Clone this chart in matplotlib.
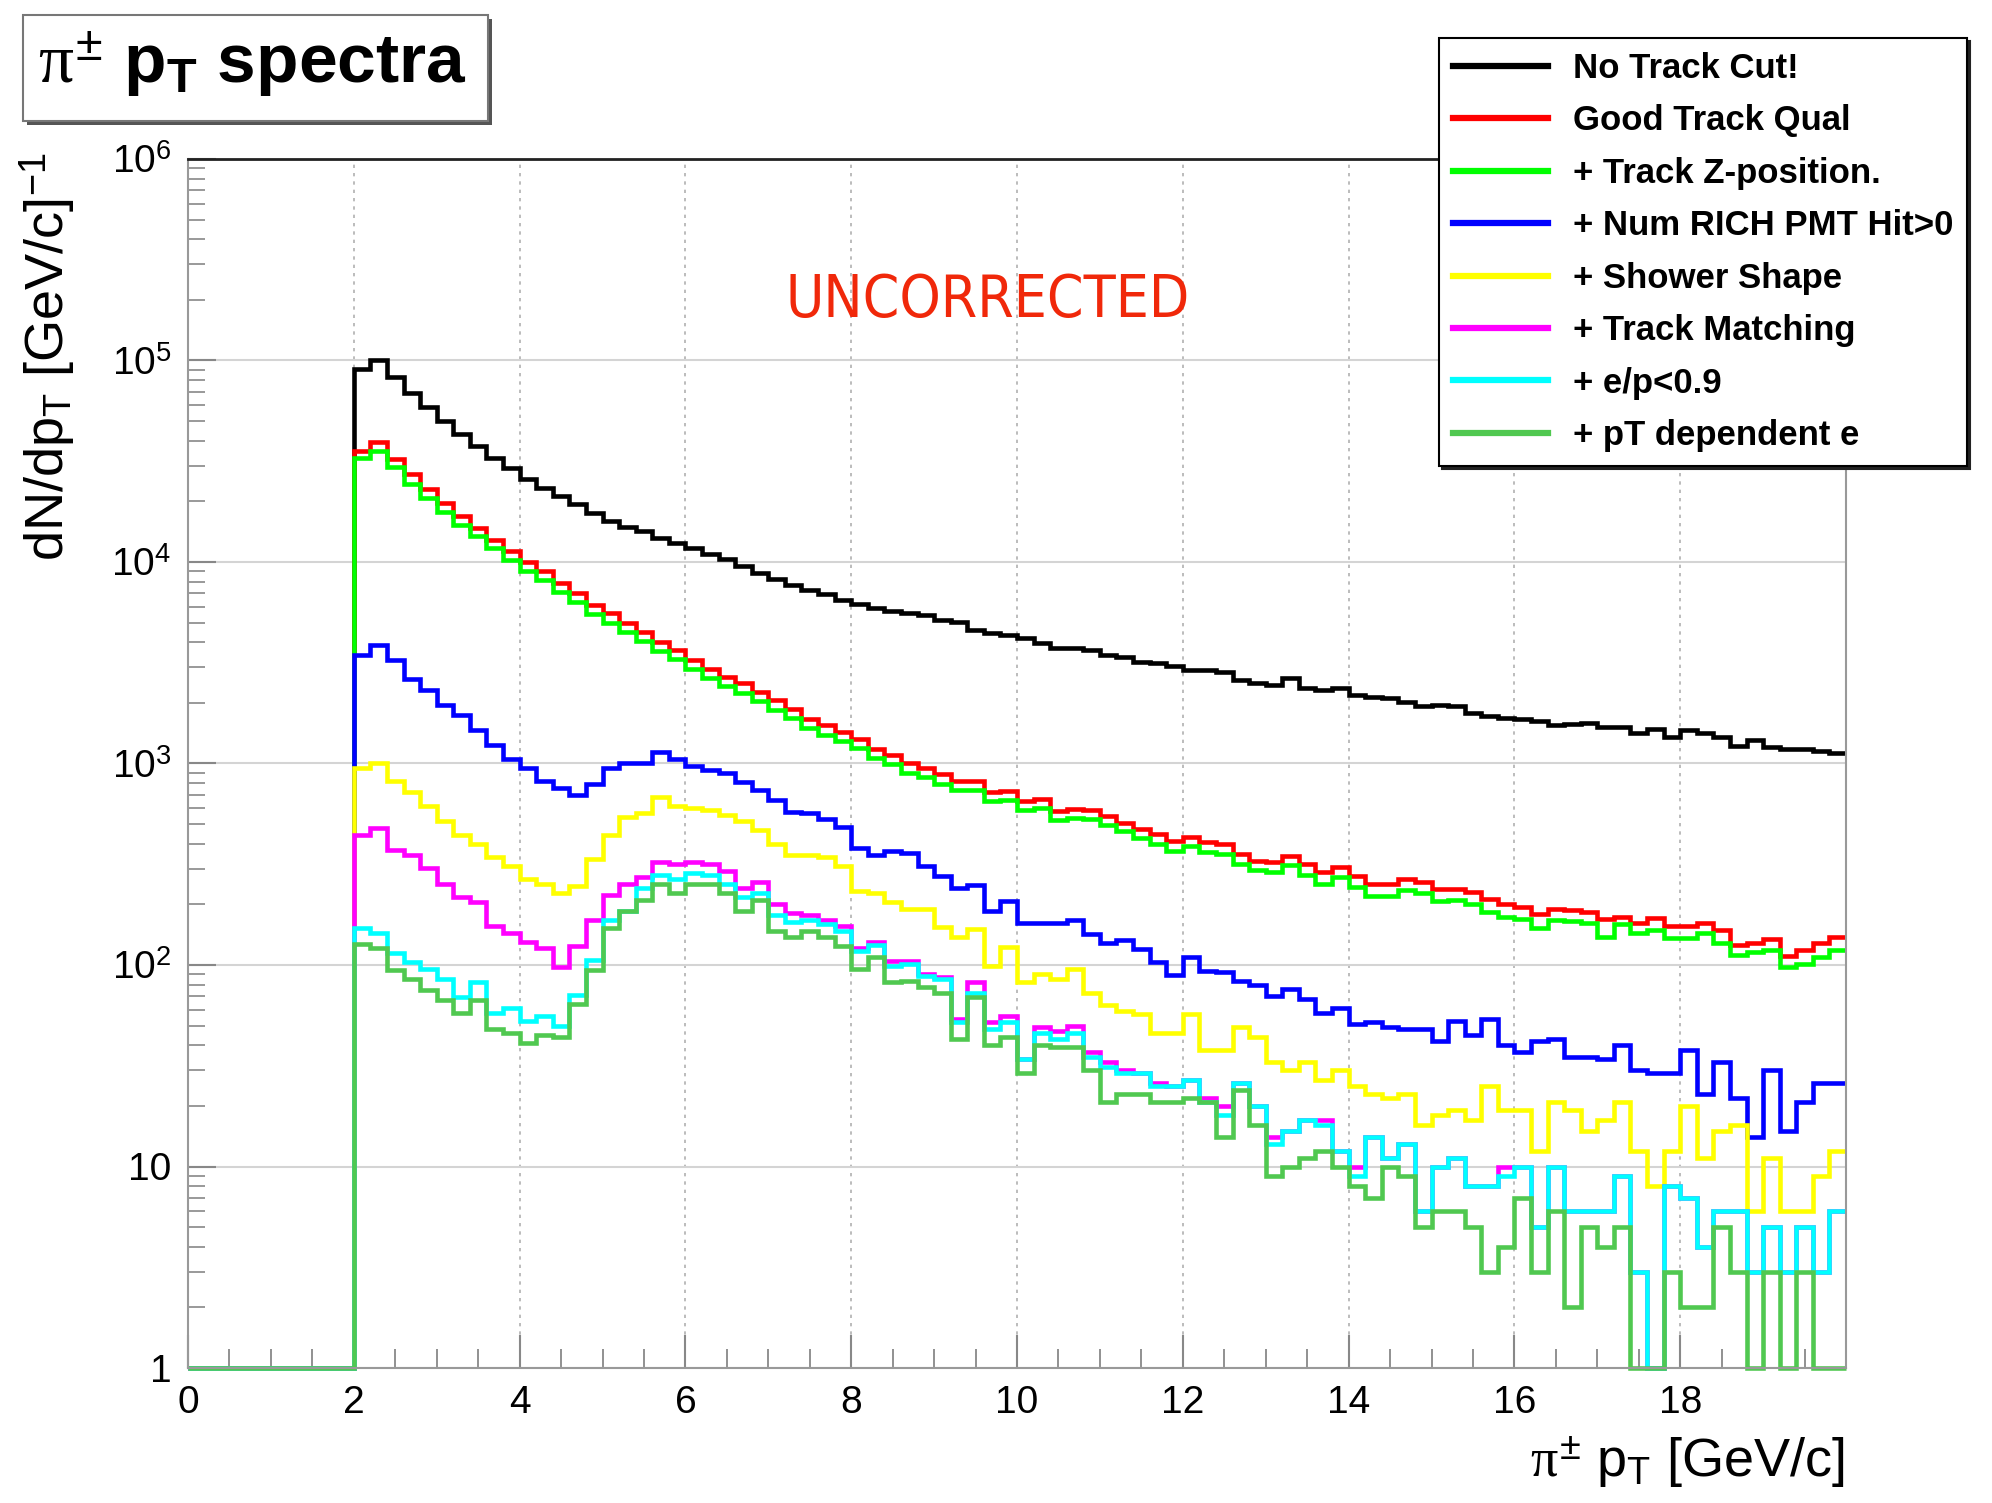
import numpy as np
import matplotlib
matplotlib.use('Agg')
import matplotlib.pyplot as plt
from matplotlib.lines import Line2D
from matplotlib.patches import Rectangle
from matplotlib.ticker import MultipleLocator, FixedLocator, FuncFormatter, NullFormatter

plt.rcParams['font.family'] = ['Liberation Sans', 'DejaVu Sans']
plt.rcParams['mathtext.fontset'] = 'custom'
plt.rcParams['mathtext.rm'] = 'Liberation Sans'
plt.rcParams['mathtext.it'] = 'Liberation Serif'
plt.rcParams['mathtext.bf'] = 'Liberation Sans:bold'

# 100 bins of 0.2 GeV/c from 0 to 20; bins below 2 GeV/c are empty
pt_edges = np.round(np.linspace(0, 20, 101), 1)
n_empty = 10

# bin contents from pT = 2.0 to 19.8 (10 bins per row)
no_cut = [91000, 100000, 83000, 69000, 58500, 50000, 43000, 37700, 33000, 29400,
          25700, 23400, 21200, 19300, 17500, 16000, 15000, 14200, 13200, 12400,
          11700, 10900, 10300, 9500, 8800, 8200, 7700, 7300, 6900, 6500,
          6200, 5900, 5700, 5600, 5450, 5150, 5050, 4600, 4430, 4340,
          4180, 3950, 3730, 3730, 3660, 3460, 3390, 3200, 3150, 3030,
          2920, 2920, 2860, 2600, 2510, 2450, 2650, 2370, 2320, 2370,
          2190, 2150, 2110, 2030, 1920, 1950, 1920, 1780, 1730, 1680,
          1660, 1630, 1550, 1570, 1590, 1510, 1510, 1410, 1490, 1350,
          1470, 1410, 1360, 1220, 1310, 1210, 1180, 1180, 1160, 1130]

good_qual = [35600, 39200, 32400, 27200, 22900, 19700, 16900, 14800, 12900, 11300,
             10000, 8980, 7860, 7000, 6130, 5570, 4970, 4510, 4030, 3660,
             3260, 2960, 2690, 2500, 2270, 2060, 1870, 1670, 1550, 1440,
             1330, 1180, 1100, 1000, 952, 883, 818, 818, 725, 730,
             651, 664, 581, 593, 586, 549, 509, 472, 446, 413,
             432, 406, 398, 355, 329, 323, 348, 316, 288, 305,
             277, 252, 252, 267, 257, 238, 238, 229, 213, 200,
             195, 179, 189, 187, 184, 170, 174, 162, 171, 156,
             156, 161, 150, 126, 129, 135, 111, 119, 128, 138]

z_pos = [33000, 35500, 29500, 24500, 20700, 17800, 15300, 13400, 11700, 10200,
         9000, 8100, 7100, 6300, 5500, 5000, 4500, 4050, 3620, 3300,
         2930, 2660, 2420, 2250, 2040, 1850, 1680, 1500, 1390, 1300,
         1200, 1060, 990, 900, 860, 795, 735, 740, 650, 660,
         585, 600, 525, 535, 530, 495, 460, 425, 400, 370,
         390, 365, 355, 318, 295, 290, 312, 280, 252, 272,
         245, 220, 220, 236, 227, 208, 210, 200, 184, 174,
         170, 152, 168, 165, 162, 138, 159, 144, 150, 136,
         136, 144, 129, 112, 116, 119, 98, 101, 110, 119]

rich_hit = [3450, 3870, 3260, 2640, 2310, 1950, 1740, 1460, 1240, 1050,
            950, 816, 756, 700, 795, 950, 1000, 1000, 1140, 1050,
            975, 926, 894, 807, 736, 659, 577, 565, 529, 485,
            380, 352, 366, 361, 311, 278, 240, 250, 185, 207,
            161, 161, 161, 168, 143, 128, 133, 120, 104, 89,
            109, 93, 92, 83, 80, 70, 76, 68, 58, 61,
            51, 52, 49, 48, 48, 42, 53, 45, 54, 40,
            37, 42, 43, 35, 35, 34, 40, 30, 29, 29,
            38, 23, 33, 22, 14, 30, 15, 21, 26, 26]

shower = [950, 1000, 816, 718, 617, 516, 442, 400, 343, 310,
          266, 253, 228, 246, 334, 442, 543, 571, 683, 617,
          601, 586, 557, 516, 466, 400, 352, 352, 343, 310,
          234, 228, 206, 190, 190, 154, 137, 151, 99, 123,
          82, 90, 85, 95, 73, 63, 59, 57, 46, 46,
          57, 38, 38, 49, 44, 33, 30, 33, 27, 30,
          25, 23, 22, 23, 16, 18, 19, 17, 25, 19,
          19, 12, 21, 19, 15, 17, 21, 12, 8, 12,
          20, 11, 15, 16, 6, 11, 6, 6, 9, 12]

matching = [443, 478, 371, 352, 302, 253, 217, 206, 156, 144,
            130, 121, 98, 124, 168, 222, 253, 273, 326, 318,
            326, 318, 294, 240, 259, 201, 182, 177, 168, 156,
            121, 130, 105, 105, 90, 87, 54, 82, 52, 56,
            34, 49, 47, 50, 37, 33, 30, 29, 26, 25,
            27, 22, 20, 26, 20, 14, 15, 17, 17, 12,
            10, 14, 11, 13, 6, 10, 11, 8, 8, 10,
            10, 5, 10, 6, 6, 6, 9, 3, 0, 8,
            7, 4, 6, 6, 3, 5, 3, 5, 3, 6]

ep_cut = [152, 144, 115, 104, 96, 85, 69, 82, 58, 61,
          53, 56, 50, 71, 106, 168, 186, 240, 280, 266,
          287, 280, 253, 217, 228, 177, 164, 168, 160, 148,
          118, 125, 99, 101, 88, 85, 52, 73, 48, 52,
          34, 46, 43, 46, 35, 31, 29, 29, 25, 25,
          27, 21, 18, 26, 20, 13, 15, 17, 16, 12,
          9, 14, 11, 13, 6, 10, 11, 8, 8, 9,
          10, 5, 10, 6, 6, 6, 9, 3, 0, 8,
          7, 4, 6, 6, 3, 5, 3, 5, 3, 6]

pt_dep_e = [127, 121, 94, 85, 75, 67, 58, 67, 48, 46,
            41, 45, 44, 64, 94, 152, 186, 211, 253, 228,
            253, 253, 228, 186, 211, 148, 137, 148, 137, 124,
            96, 110, 82, 83, 78, 73, 43, 69, 40, 44,
            29, 40, 39, 39, 30, 21, 23, 23, 21, 21,
            22, 21, 14, 24, 16, 9, 10, 11, 12, 10,
            8, 7, 10, 9, 5, 6, 6, 5, 3, 4,
            7, 3, 6, 2, 5, 4, 5, 0, 0, 3,
            2, 2, 5, 3, 0, 3, 0, 3, 0, 0]

labels = ['No Track Cut!', 'Good Track Qual', '+ Track Z-position.',
          '+ Num RICH PMT Hit>0', '+ Shower Shape', '+ Track Matching',
          '+ e/p<0.9', '+ pT dependent e']
series = [no_cut, good_qual, z_pos, rich_hit, shower, matching, ep_cut, pt_dep_e]
colors = ['#000000', '#ff0000', '#00ff00', '#0000ff', '#ffff00', '#ff00ff',
          '#00ffff', '#50c850']

W, H = 1992, 1503
fig = plt.figure(figsize=(W / 100, H / 100), dpi=100)
ax = fig.add_axes([188 / W, 1 - 1368 / H, (1846 - 188) / W, (1368 - 159) / H])

for vals, col in zip(series, colors):
    h = np.concatenate([np.zeros(n_empty), np.asarray(vals, dtype=float)])
    # empty bins are drawn on the frame bottom, as ROOT does on a log axis
    ax.stairs(np.clip(h, 1, None), pt_edges, color=col, lw=3.3, baseline=None,
              clip_on=False)

ax.set_yscale('log')
ax.set_xlim(0, 20)
ax.set_ylim(1, 1e6)

ax.set_xticks(np.arange(0, 19, 2))
ax.xaxis.set_minor_locator(MultipleLocator(0.5))
decades = 10.0 ** np.arange(0, 7)
ax.yaxis.set_major_locator(FixedLocator(decades))
ax.yaxis.set_minor_locator(FixedLocator([d * s for d in decades[:-1] for s in range(2, 10)]))


def ylab(v, pos):
    if v < 1.5:
        return '1'
    if v < 15:
        return '10'
    return r'$10^{%d}$' % int(round(np.log10(v)))


ax.yaxis.set_major_formatter(FuncFormatter(ylab))
ax.yaxis.set_minor_formatter(NullFormatter())

ax.tick_params(which='both', direction='in', color='#888888', labelcolor='black')
ax.tick_params(axis='x', which='major', length=24, width=1.5, labelsize=28, pad=12)
ax.tick_params(axis='x', which='minor', length=14, width=1.3)
ax.tick_params(axis='y', which='major', length=20, width=1.5, labelsize=28, pad=12)
ax.tick_params(axis='y', which='minor', length=12, width=1.2)

ax.grid(axis='y', which='major', color='#d4d4d4', lw=1.5, ls='-')
ax.grid(axis='x', which='major', color='#b0b0b0', lw=1.2, ls=(0, (2, 3)))
ax.set_axisbelow(True)

ax.spines['top'].set_color('#222222')
ax.spines['top'].set_linewidth(2)
for s in ['left', 'bottom', 'right']:
    ax.spines[s].set_color('#999999')
    ax.spines[s].set_linewidth(1.5)

# axis titles
fig.text(1845 / W, 1 - 1477 / H, r'$\pi^{\pm}$ p$_{\mathrm{T}}$ [GeV/c]',
         fontsize=39, ha='right', va='baseline')
fig.text(48 / W, 1 - 152 / H, r'dN/dp$_{\mathrm{T}}$ [GeV/c]$^{-1}$',
         fontsize=39, rotation=90, ha='center', va='top')

# title box with shadow
bx, by, bw, bh = 23 / W, 1 - 121 / H, 465 / W, 106 / H
fig.add_artist(Rectangle((bx + 4 / W, by - 4 / H), bw, bh, transform=fig.transFigure,
                         fc='#555555', ec='none'))
fig.add_artist(Rectangle((bx, by), bw, bh, transform=fig.transFigure,
                         fc='white', ec='#777777', lw=1.5))
fig.text(38 / W, 1 - 64 / H, r'$\pi^{\pm}$ p$_{\mathbf{T}}$ spectra',
         fontsize=50, fontweight='bold', ha='left', va='center')

fig.text(988 / W, 1 - 300 / H, 'UNCORRECTED', color='#f0280a', fontsize=42,
         family=['DejaVu Sans'], fontstretch='condensed', ha='center', va='center')

handles = [Line2D([], [], color=c, lw=4.5) for c in colors]
leg = ax.legend(handles, labels, loc='upper left',
                bbox_to_anchor=(1439 / W, 1 - 38 / H), bbox_transform=fig.transFigure,
                prop=dict(family='Liberation Sans', weight='bold', size=25),
                frameon=True, fancybox=False, edgecolor='black', framealpha=1,
                borderpad=0.4, handlelength=2.75, handletextpad=0.7,
                labelspacing=0.56, borderaxespad=0,
                shadow={'color': '#222222', 'alpha': 1})
leg.get_frame().set_linewidth(1.5)

fig.savefig('out.png', dpi=100)
